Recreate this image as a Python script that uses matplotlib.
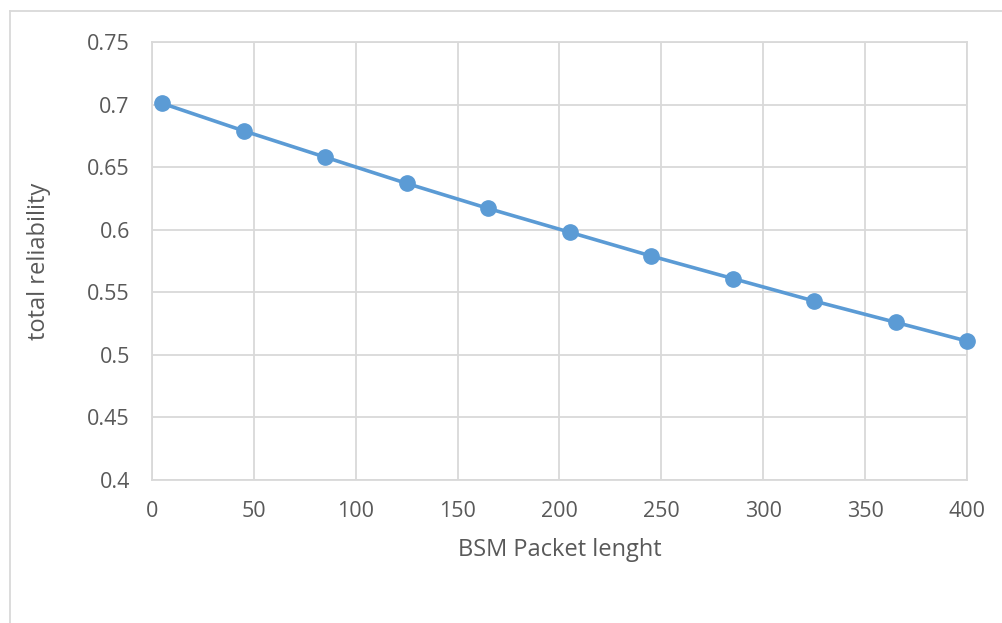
import matplotlib.pyplot as plt
from matplotlib.lines import Line2D

# BSM packet length vs. total reliability
PACKET_LENGTH = [5, 45, 85, 125, 165, 205, 245, 285, 325, 365, 400]
RELIABILITY = [0.701, 0.679, 0.658, 0.637, 0.617, 0.598, 0.579, 0.561, 0.543, 0.526, 0.511]

X_TICKS = [0, 50, 100, 150, 200, 250, 300, 350, 400]
Y_TICKS = [0.4, 0.45, 0.5, 0.55, 0.6, 0.65, 0.7, 0.75]
Y_TICK_LABELS = ["0.4", "0.45", "0.5", "0.55", "0.6", "0.65", "0.7", "0.75"]

LINE = "#5b9bd5"
GRID = "#d9d9d9"
INK = "#595959"
BORDER = "#d9d9d9"

plt.rcParams["font.family"] = ["Open Sans", "DejaVu Sans"]

fig = plt.figure(figsize=(10.03, 6.23), dpi=100)
ax = fig.add_axes([152 / 1003, 1 - 480 / 623, (967 - 152) / 1003, (480 - 42) / 623])

ax.plot(PACKET_LENGTH, RELIABILITY, color=LINE, linewidth=2.6, marker="o",
        markersize=11, zorder=3, clip_on=False)

ax.set_xlim(0, 400)
ax.set_ylim(0.4, 0.75)
ax.set_xticks(X_TICKS)
ax.set_yticks(Y_TICKS)
ax.set_yticklabels(Y_TICK_LABELS)
ax.grid(True, color=GRID, linewidth=1.3, zorder=0)
ax.set_axisbelow(True)
for spine in ax.spines.values():
    spine.set_color(GRID)
    spine.set_linewidth(1.3)
ax.tick_params(length=0, colors=INK, labelsize=15.5)
ax.tick_params(axis="x", pad=15)
ax.tick_params(axis="y", pad=16)

ax.set_xlabel("BSM Packet lenght", color=INK, fontsize=17, labelpad=12)
ax.set_ylabel("total reliability", color=INK, fontsize=17, labelpad=26)

# outer chart border (left and top edges visible)
fig.add_artist(Line2D([10 / 1003, 10 / 1003], [0, 1 - 11 / 623], color=BORDER,
                      linewidth=1.3, transform=fig.transFigure))
fig.add_artist(Line2D([10 / 1003, 1.0], [1 - 11 / 623, 1 - 11 / 623], color=BORDER,
                      linewidth=1.3, transform=fig.transFigure))

fig.savefig("out.png", dpi=100, facecolor="white")
